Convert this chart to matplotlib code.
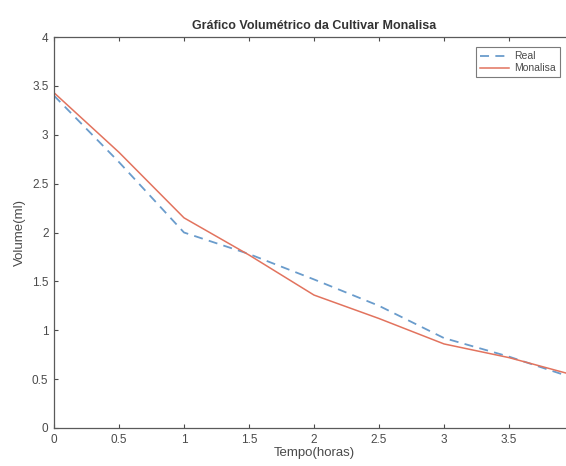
import matplotlib
matplotlib.use("Agg")
import matplotlib.pyplot as plt

# values
tempo = [0, 0.5, 1, 1.5, 2, 2.5, 3, 3.5, 4]
real = [3.40, 2.72, 2.00, 1.78, 1.52, 1.25, 0.92, 0.73, 0.51]
monalisa = [3.43, 2.82, 2.15, 1.77, 1.36, 1.12, 0.86, 0.72, 0.54]

# the "4" tick sits past the cropped right edge in the original
x_ticks = [0, 0.5, 1, 1.5, 2, 2.5, 3, 3.5]
y_ticks = [0, 0.5, 1, 1.5, 2, 2.5, 3, 3.5, 4]

plt.rcParams["font.family"] = ["Liberation Sans", "DejaVu Sans"]
text_col = "#4a4a4a"

W, H = 566, 466
fig = plt.figure(figsize=(W / 100, H / 100), dpi=100)
# axes runs a bit past the right edge, like the cropped original
ax = fig.add_axes([54 / W, (H - 428) / H, 520 / W, (428 - 37) / H])

ax.plot(tempo, real, linestyle=(0, (5, 3.5)), color="#6a9ccc", linewidth=1.3, label="Real")
ax.plot(tempo, monalisa, color="#e2735e", linewidth=1.1, label="Monalisa")

ax.set_xlim(0, 4)
ax.set_ylim(0, 4)
ax.set_xticks(x_ticks)
ax.set_yticks(y_ticks)
ax.set_xticklabels([f"{t:g}" for t in x_ticks])
ax.set_yticklabels([f"{t:g}" for t in y_ticks])
ax.tick_params(direction="in", length=3, width=0.8, top=True, right=True,
               labelsize=8.5, colors=text_col, pad=4)
for s in ax.spines.values():
    s.set_color("#5a5a5a")
    s.set_linewidth(0.9)

ax.set_title("Gráfico Volumétrico da Cultivar Monalisa", fontsize=9,
             fontweight="bold", color="#333333", pad=6)
ax.set_xlabel("Tempo(horas)", fontsize=9.5, color=text_col, labelpad=1)
ax.set_ylabel("Volume(ml)", fontsize=9.5, color=text_col, labelpad=4)

leg = ax.legend(loc="upper right", bbox_to_anchor=(560 / W, 1 - 47 / H),
                bbox_transform=fig.transFigure, borderaxespad=0,
                fontsize=7.5, frameon=True, fancybox=False, handlelength=2.8,
                labelspacing=0.2, borderpad=0.4, handletextpad=0.5)
leg.get_frame().set_edgecolor("#5a5a5a")
leg.get_frame().set_linewidth(0.8)
for t in leg.get_texts():
    t.set_color(text_col)

fig.savefig("out.png", dpi=100)
